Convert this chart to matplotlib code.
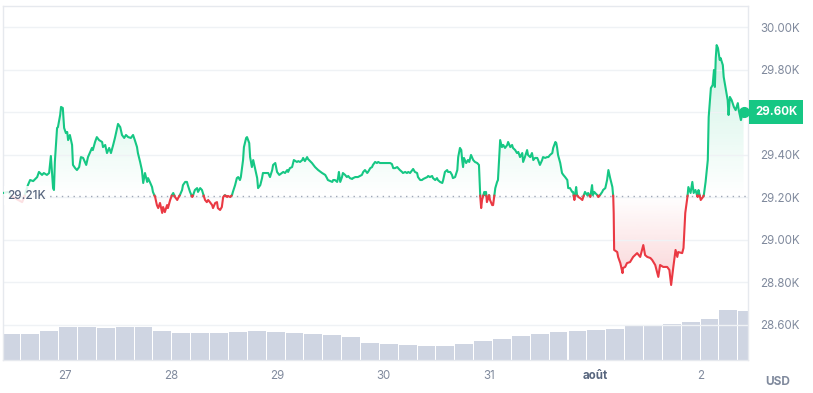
import numpy as np
import matplotlib
matplotlib.use('Agg')
import matplotlib.pyplot as plt
from matplotlib.path import Path
from matplotlib.colors import to_rgb

plt.rcParams['font.family'] = ['Inter', 'DejaVu Sans']

# price, hours since 26 Jul 00:00 (USD)
hours = [
    10.0, 11.1, 12.2, 13.4, 14.3, 14.9, 15.6, 16.1, 16.8, 17.7,
    18.1, 18.8, 19.2, 19.9, 20.4, 20.8, 21.3, 21.5, 21.7, 22.2,
    22.4, 22.9, 23.1, 23.5, 23.8, 24.2, 24.5, 24.7, 25.1, 25.6,
    25.8, 26.3, 26.7, 27.2, 27.6, 28.1, 28.8, 29.2, 29.7, 30.1,
    30.3, 30.8, 31.2, 31.7, 32.4, 32.6, 33.1, 33.5, 34.0, 34.4,
    34.9, 35.3, 35.8, 36.0, 36.5, 36.9, 37.4, 37.8, 38.3, 38.9,
    39.4, 39.8, 40.3, 40.5, 41.0,
    41.4, 41.7, 42.1, 42.6, 42.8, 43.2, 43.7, 43.9, 44.4, 44.8,
    45.1, 45.5, 46.0, 46.2, 46.6, 47.1, 47.3, 47.8, 48.2, 48.5,
    48.9, 49.4, 49.6, 50.0, 50.5, 50.7, 51.2, 51.6, 51.8, 52.3,
    52.8, 53.0, 53.4, 53.9, 54.1, 54.6, 55.0, 55.2, 55.7, 56.1,
    56.4, 56.8, 57.3, 57.5, 58.0, 58.4, 58.6, 59.1, 59.5, 59.8,
    60.2, 60.7, 60.9, 61.4, 61.8, 62.0, 62.5, 62.9, 63.2, 63.6,
    63.8, 64.3, 64.5, 65.0, 65.2, 65.7, 65.9, 66.3, 66.6, 67.0,
    67.5, 67.7, 68.2, 68.6, 68.8, 69.5,
    70.0, 70.4, 70.9, 71.1, 71.6, 72.0, 72.5, 73.1, 73.4, 73.8,
    74.3, 74.5, 74.9, 75.4, 75.8, 76.5, 76.8, 77.2, 77.7, 77.9,
    78.3, 78.8, 79.0, 79.9, 80.6, 81.3, 82.2, 82.9, 83.3, 83.5,
    84.5, 84.7, 85.1, 85.6, 85.8, 86.0, 86.3, 86.7, 86.9, 87.4,
    87.8, 88.1, 88.5, 89.0, 89.2, 89.7, 90.3, 91.2, 91.5, 91.9,
    92.4, 92.6, 93.1, 93.5, 93.7, 94.2, 94.6, 94.9, 95.3, 96.0,
    96.9, 97.6, 98.0, 98.3, 98.7,
    99.2, 99.4, 99.8, 100.3, 100.5, 101.0, 101.4, 101.7, 102.1, 102.6,
    102.8, 103.2, 103.7, 103.9, 104.4, 104.8, 105.1, 106.0, 106.2, 106.6,
    107.1, 107.3, 107.8, 108.2, 108.4, 108.9, 109.4, 109.6, 110.0, 110.5,
    110.7, 111.2, 111.6, 111.8, 112.3, 112.8, 113.0, 113.4, 113.7, 113.9,
    114.1, 114.3, 114.8, 115.2, 115.5, 115.9, 116.4, 116.8, 117.3, 117.7,
    118.0, 118.2, 118.4, 118.9, 119.1, 119.3, 119.5, 120.0, 120.2, 120.7,
    120.9, 121.4, 121.8, 122.0, 122.5, 122.9, 123.2, 123.6, 124.1, 124.3,
    124.8, 125.2, 125.4, 125.9,
    126.3, 126.6, 127.0, 127.5, 127.7, 128.1, 128.6, 128.8, 129.3, 129.7,
    130.0, 130.4, 130.9, 131.1, 131.5, 132.0, 132.2, 132.7, 133.1, 133.4,
    133.8, 134.3, 134.5, 135.0, 135.2, 135.4, 135.6, 136.1, 136.5, 136.8,
    137.2, 137.7, 137.9, 138.3, 138.8, 139.0, 139.3, 139.7, 139.9, 140.2,
    140.6, 141.1, 141.3, 141.7, 142.2, 142.4, 142.9, 143.3, 143.5, 143.8,
    144.0, 144.5, 144.7, 145.1, 145.6, 145.8, 146.3, 146.7, 147.0, 147.4,
    147.9, 148.1, 148.2, 148.3, 149.0, 149.2, 149.7, 150.2, 150.3, 150.8,
    151.2, 151.9, 152.6, 153.5, 154.2, 154.9, 155.3, 155.8, 156.5, 156.9,
    157.6, 158.3, 158.7, 159.4, 160.3, 160.8, 161.2, 161.7, 162.2, 162.6,
    162.8, 163.7, 164.0, 164.4, 164.9, 165.1, 165.6, 166.0, 166.3, 166.7,
    167.2, 167.4, 167.9, 168.4, 168.6, 169.0, 169.5, 169.7, 170.2, 170.6,
    170.9, 171.1, 171.3, 171.5, 171.8, 172.2, 172.4, 172.9, 173.1, 173.6,
    174.0, 174.2, 174.5, 174.9, 175.4, 175.8, 176.3, 176.5, 177.0, 177.4,
    177.6,
]
price = [
    29219, 29224, 29200, 29186, 29176, 29209, 29256, 29280, 29275, 29294,
    29318, 29304, 29313, 29304, 29313, 29393, 29242, 29233, 29365, 29525,
    29529, 29586, 29624, 29619, 29525, 29501, 29506, 29468, 29492, 29445,
    29351, 29336, 29327, 29341, 29388, 29384, 29351, 29388, 29412, 29431,
    29421, 29459, 29482, 29468, 29459, 29435, 29445, 29407, 29431, 29407,
    29445, 29478, 29525, 29544, 29529, 29492, 29478, 29492, 29482, 29478,
    29492, 29468, 29435, 29407, 29365,
    29327, 29266, 29313, 29271, 29289, 29271, 29247, 29224, 29200, 29162,
    29148, 29172, 29125, 29153, 29129, 29162, 29148, 29186, 29209, 29219,
    29200, 29186, 29195, 29209, 29233, 29256, 29271, 29271, 29256, 29224,
    29200, 29209, 29233, 29242, 29224, 29242, 29233, 29219, 29186, 29176,
    29186, 29176, 29162, 29148, 29172, 29176, 29148, 29139, 29153, 29200,
    29209, 29200, 29205, 29200, 29209, 29224, 29256, 29289, 29294, 29280,
    29294, 29374, 29435, 29478, 29482, 29454, 29388, 29341, 29374, 29336,
    29289, 29242, 29256, 29289, 29313, 29313,
    29313, 29294, 29327, 29351, 29360, 29318, 29304, 29313, 29318, 29313,
    29327, 29318, 29336, 29341, 29374, 29365, 29369, 29365, 29374, 29384,
    29369, 29388, 29379, 29360, 29341, 29327, 29313, 29304, 29289, 29280,
    29271, 29280, 29280, 29271, 29289, 29318, 29271, 29294, 29313, 29304,
    29294, 29299, 29289, 29285, 29289, 29294, 29294, 29304, 29318, 29327,
    29313, 29318, 29336, 29341, 29351, 29365, 29360, 29365, 29360, 29360,
    29360, 29360, 29355, 29336, 29336,
    29341, 29336, 29327, 29318, 29313, 29318, 29313, 29318, 29313, 29327,
    29332, 29318, 29313, 29294, 29280, 29280, 29285, 29294, 29299, 29294,
    29299, 29289, 29280, 29289, 29280, 29271, 29266, 29280, 29318, 29327,
    29318, 29318, 29304, 29289, 29294, 29327, 29388, 29431, 29421, 29374,
    29341, 29384, 29360, 29374, 29365, 29398, 29374, 29365, 29360, 29351,
    29200, 29148, 29186, 29224, 29209, 29224, 29176, 29209, 29186, 29162,
    29162, 29242, 29271, 29280, 29468, 29435, 29445, 29431, 29445, 29459,
    29435, 29445, 29431, 29421,
    29407, 29412, 29388, 29407, 29365, 29388, 29421, 29398, 29388, 29407,
    29374, 29384, 29384, 29374, 29351, 29374, 29388, 29384, 29388, 29388,
    29398, 29407, 29431, 29459, 29454, 29431, 29398, 29360, 29313, 29304,
    29294, 29280, 29242, 29242, 29224, 29224, 29186, 29247, 29209, 29200,
    29195, 29186, 29200, 29224, 29209, 29219, 29200, 29256, 29209, 29224,
    29219, 29209, 29200, 29209, 29224, 29233, 29242, 29280, 29327, 29289,
    29247, 29200, 29125, 28951, 28941, 28918, 28889, 28842, 28866, 28871,
    28889, 28894, 28918, 28936, 28918, 28974, 28927, 28918, 28913, 28904,
    28880, 28824, 28880, 28871, 28871, 28857, 28786, 28871, 28951, 28918,
    28941, 28936, 28960, 29125, 29200, 29247, 29219, 29271, 29219, 29233,
    29200, 29233, 29186, 29200, 29209, 29271, 29374, 29576, 29713, 29727,
    29798, 29718, 29854, 29915, 29901, 29845, 29854, 29821, 29765, 29704,
    29656, 29586, 29671, 29656, 29624, 29609, 29642, 29609, 29562, 29600,
    29600,
]
assert len(hours) == len(price)

open_price = 29206  # reference line (29.21K)

# 24h volume bars, billions USD
vol_start = 9.87  # hours
vol_step = 4.27   # hours per bar
volume = [11.8, 11.6, 13.1, 14.9, 15.0, 14.5, 15.0, 15.0, 13.1, 12.0,
          12.2, 12.2, 12.5, 13.1, 12.7, 12.3, 11.8, 11.1, 10.4, 7.8,
          7.1, 6.9, 6.4, 6.4, 7.3, 8.6, 9.6, 10.8, 11.8, 12.5,
          13.1, 13.4, 14.1, 15.3, 15.6, 16.1, 17.2, 18.3, 22.4, 22.1]

x_ticks = [24, 48, 72, 96, 120, 144, 168]
x_labels = ['27', '28', '29', '30', '31', 'août', '2']
y_ticks = [28600, 28800, 29000, 29200, 29400, 29600, 29800, 30000]

GREEN = '#16c784'
RED = '#ea3943'
GRID = '#eff2f5'
TXT = '#808a9d'

t = np.array(hours, float)
p = np.array(price, float)

# add the crossing points with the reference line so the colours meet
tt, pp = [t[0]], [p[0]]
for i in range(1, len(t)):
    a, b = p[i - 1] - open_price, p[i] - open_price
    if a * b < 0:
        f = a / (a - b)
        tt.append(t[i - 1] + f * (t[i] - t[i - 1]))
        pp.append(open_price)
    tt.append(t[i])
    pp.append(p[i])
tt = np.array(tt)
pp = np.array(pp)


def grad_fill(ax, color, up, amax=0.22):
    if up:
        edge = np.maximum(pp, open_price)
        lo, hi = open_price, pp.max()
    else:
        edge = np.minimum(pp, open_price)
        lo, hi = pp.min(), open_price
    verts = np.column_stack([np.r_[tt, tt[::-1]],
                             np.r_[edge, np.full(len(tt), open_price)]])
    img = np.zeros((256, 1, 4))
    img[..., :3] = to_rgb(color)
    ramp = np.linspace(0, 1, 256)
    img[:, 0, 3] = (ramp if up else ramp[::-1]) * amax
    im = ax.imshow(img, extent=[tt[0], tt[-1], lo, hi], origin='lower',
                   aspect='auto', interpolation='bilinear', zorder=1)
    im.set_clip_path(Path(verts), transform=ax.transData)


rect = [2.5 / 813, 33 / 393, 745.5 / 813, 354 / 393]
fig = plt.figure(figsize=(8.13, 3.93), dpi=100)

# volume behind
axv = fig.add_axes(rect, zorder=0)
vx = vol_start + vol_step * np.arange(len(volume))
axv.bar(vx, volume, width=vol_step * 0.945, align='edge', color='#cfd5e2',
        linewidth=0)
axv.set_xlim(9.85, 178.6)
axv.set_ylim(0, 159)
axv.axis('off')

ax = fig.add_axes(rect, zorder=1)
ax.patch.set_visible(False)

grad_fill(ax, GREEN, True)
grad_fill(ax, RED, False)

ax.plot(tt, np.where(pp >= open_price, pp, np.nan), color=GREEN, lw=1.5,
        zorder=3, solid_joinstyle='round')
ax.plot(tt, np.where(pp <= open_price, pp, np.nan), color=RED, lw=1.5,
        zorder=3, solid_joinstyle='round')
ax.plot(t[-1], p[-1], 'o', ms=7, color=GREEN, zorder=4)

ax.axhline(open_price, color='#a0a7b7', lw=1, ls=(0, (1, 3.2)), zorder=2)
ax.text(0.0065, open_price, f'{open_price / 1000:.2f}K', transform=ax.get_yaxis_transform(),
        ha='left', va='center', fontsize=8.5, fontweight='medium', color='#58667e', zorder=5,
        bbox=dict(boxstyle='square,pad=0.3', fc='white', ec='none', alpha=0.85))

ax.set_xlim(9.85, 178.6)
ax.set_ylim(28433, 30099)

# the tick under the current-price tag is covered by the tag itself
ax.set_yticks(y_ticks)
ax.set_yticklabels(['' if v == p[-1] else f'{v / 1000:.2f}K' for v in y_ticks])
ax.yaxis.tick_right()
ax.tick_params(axis='y', length=0, pad=9, labelsize=8.3, labelcolor=TXT)
ax.set_xticks(x_ticks)
ax.set_xticklabels(x_labels)
ax.tick_params(axis='x', length=0, pad=7.5, labelsize=8.3, labelcolor=TXT)
for lab in ax.get_xticklabels():
    if lab.get_text() == 'août':
        lab.set_fontweight('bold')
        lab.set_color('#58667e')

ax.grid(axis='y', color=GRID, lw=1, zorder=0)
for s in ax.spines.values():
    s.set_color('#e6e9ee')
    s.set_linewidth(1)

# current price tag
ax.text(1.0095, p[-1], f'{p[-1] / 1000:.2f}K', transform=ax.get_yaxis_transform(),
        ha='left', va='center', fontsize=8.3, fontweight='bold', color='white',
        zorder=6, clip_on=False,
        bbox=dict(boxstyle='square,pad=0.5', fc=GREEN, ec='none'))

fig.text(778 / 813, 1 - 382 / 393, 'USD', ha='center', va='center',
         fontsize=8.5, fontweight='bold', color=TXT)

fig.savefig('out.png', dpi=100)
